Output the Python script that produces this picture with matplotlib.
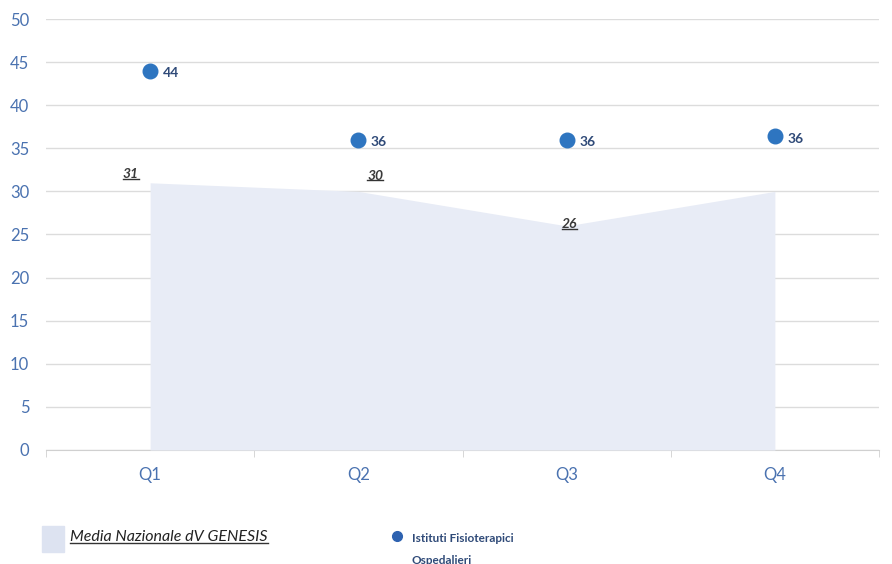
import matplotlib.pyplot as plt
from matplotlib.lines import Line2D

quarters = ['Q1', 'Q2', 'Q3', 'Q4']
media_nazionale = [31, 30, 26, 30]
istituti = [44, 36, 36, 36.4]
istituti_labels = ['44', '36', '36', '36']
media_labels = ['31', '30', '26', '']

plt.rcParams['font.family'] = ['Lato', 'DejaVu Sans']

fig = plt.figure(figsize=(8.92, 5.64), dpi=100)
ax = fig.add_axes([46 / 892, 114 / 564, 833 / 892, 431 / 564])

x = list(range(len(quarters)))
ax.fill_between(x, media_nazionale, 0, color='#e8ecf6', linewidth=0, zorder=1)
ax.scatter(x, istituti, s=110, color='#2e75c0', zorder=3)

for xi, v, lab in zip(x, istituti, istituti_labels):
    ax.annotate(lab, (xi, v), xytext=(9, -2), textcoords='offset points',
                ha='left', va='center', fontsize=10, fontweight='bold', color='#2f4a78')

# area labels (italic, underlined)
offsets = [(-14, 2), (12, 7), (2, -3)]
under = []
for xi, v, lab, off in zip(x, media_nazionale, media_labels, offsets):
    if not lab:
        continue
    t = ax.annotate(lab, (xi, v), xytext=off, textcoords='offset points',
                    ha='center', va='bottom', fontsize=10, fontstyle='italic',
                    fontweight='bold', color='#3a3a3a', zorder=4)
    under.append(t)

ax.set_xlim(-0.5, 3.5)
ax.set_ylim(0, 50)
ax.set_yticks(range(0, 51, 5))
ax.set_xticks(x)
ax.set_xticklabels(quarters)
ax.set_xticks([-0.5, 0.5, 1.5, 2.5, 3.5], minor=True)
ax.tick_params(axis='y', length=0, labelsize=12, labelcolor='#4a72b0', pad=12)
ax.tick_params(axis='x', which='major', length=0, labelsize=12, labelcolor='#4a72b0', pad=12)
ax.tick_params(axis='x', which='minor', length=5, color='#d0d0d0')
ax.grid(axis='y', color='#dcdcdc', linewidth=1)
ax.set_axisbelow(True)
for s in ['top', 'right', 'left']:
    ax.spines[s].set_visible(False)
ax.spines['bottom'].set_color('#d0d0d0')
ax.spines['bottom'].set_zorder(0)

# legend
fig.patches.append(plt.Rectangle((42 / 892, 12 / 564), 22 / 892, 26 / 564,
                                 transform=fig.transFigure, color='#dde3f1'))
t1 = fig.text(70 / 892, 27 / 564, 'Media Nazionale dV GENESIS', fontsize=11.5,
              fontstyle='italic', color='#222222', va='center', ha='left')
under.append(t1)
fig.add_artist(Line2D([397 / 892], [28 / 564], marker='o', markersize=7,
                      color='#2e62b0', transform=fig.transFigure))
fig.text(412 / 892, 26 / 564, 'Istituti Fisioterapici', fontsize=8.5,
         fontweight='bold', color='#2f4a78', va='center', ha='left')
fig.text(412 / 892, 4 / 564, 'Ospedalieri', fontsize=8.5,
         fontweight='bold', color='#2f4a78', va='center', ha='left')

fig.canvas.draw()
r = fig.canvas.get_renderer()
for t in under:
    bb = t.get_window_extent(r).transformed(fig.transFigure.inverted())
    y = bb.y0 + 1.5 / 564
    fig.add_artist(Line2D([bb.x0, bb.x1], [y, y], color='#333333', linewidth=1,
                          transform=fig.transFigure))

fig.savefig('out.png', dpi=100)
